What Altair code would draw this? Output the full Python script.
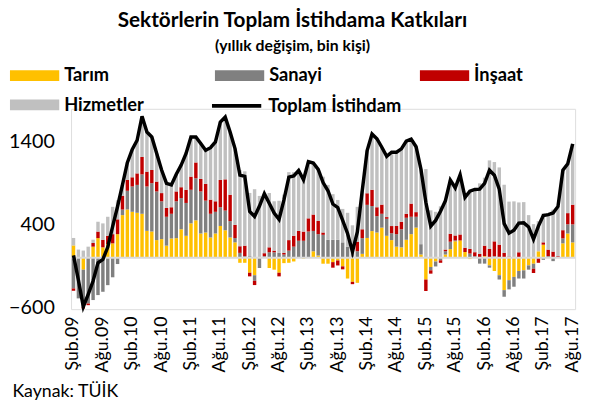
import altair as alt
import pandas as pd

# ---- data (thousand persons, yearly change) ----
ay_adlari = ["Oca", "Şub", "Mar", "Nis", "May", "Haz", "Tem", "Ağu", "Eyl", "Eki", "Kas", "Ara"]
aylar = []
for k in range(103):
    m = (1 + k) % 12
    yil = 2009 + (1 + k) // 12
    aylar.append(f"{ay_adlari[m]}.{yil % 100:02d}")

tarim = [150, 0, -143, 0, 135, 238, 127, 167, 175, 286,
         516, 584, 556, 544, 532, 326, 318, 214, 226, 147,
         234, 238, 345, 266, 417, 453, 294, 306, 246, 294,
         385, 333, 246, 187, -60, -60, -180, -210, 0, 0,
         -123, -143, -180, -64, -60, -44, 0, -10, 0, 79,
         28, -71, -71, -52, -32, -103, -250, -290, -302, 48,
         240, 323, 306, 365, 266, 214, 135, 127, 218, 286,
         365, 40, -262, -111, -44, 0, 40, 105, 200, 210,
         70, -15, 0, 0, 20, -91, -159, -210, -390, -270,
         -230, -159, -151, -91, -71, 79, 159, 0, 0, 0,
         175, 294, 186]

sanayi = [-370, -490, -450, -552, -510, -450, -410, -330, -235, -75,
          67, 226, 306, 337, 476, 536, 584, 588, 457, 349,
          298, 445, 377, 397, 405, 508, 508, 385, 286, 262,
          226, 238, 198, 52, 60, 20, 20, -67, -123, 20,
          67, 67, 60, 40, 87, 135, 206, 206, 318, 246,
          258, 278, 218, 218, 218, 187, 135, 100, 80, 190,
          400, 303, 198, 167, 206, 83, 151, 218, 266, 210,
          131, 125, 0, -40, -60, -30, 40, 90, 10, 0,
          0, 52, 20, -70, -70, -28, 20, -52, -80, -111,
          -119, -91, -99, -52, -60, 0, -24, 20, -40, 0,
          60, 111, 218]

insaat = [-28, 0, -20, -20, 44, 79, 91, 99, 111, 179,
          167, 131, 111, 139, 210, 179, 159, 119, 99, 107,
          79, 119, 131, 159, 159, 191, 151, 202, 171, 127,
          330, 377, 318, 159, 80, 127, -44, -52, 0, 36,
          60, 20, -44, 20, 127, 131, 119, 111, 159, 198,
          159, 28, 0, -67, -60, -36, 0, -28, 115, 107,
          140, 196, 107, 111, 20, 87, 99, 91, 48, 159,
          56, 0, -139, -40, 0, -30, 20, 95, 60, 72,
          52, 56, 48, 48, 127, 107, 179, 159, 60, 16,
          0, 67, 10, 0, -52, -60, 28, 79, 75, 20,
          99, 135, 238]

hizmetler = [90, 100, 88, 135, 40, 119, 198, 230, 330, 230,
             130, 209, 337, 400, 492, 479, 399, 339, 278, 297,
             269, 208, 267, 438, 479, 308, 427, 407, 627, 717,
             699, 752, 758, 922, 920, 898, 764, 829, 748, 719,
             656, 596, 629, 704, 821, 768, 730, 636, 686, 622,
             623, 674, 663, 551, 481, 404, 409, 293, 421, 465,
             516, 675, 828, 693, 735, 892, 891, 880, 878, 780,
             790, 903, 1072, 574, 556, 622, 590, 649, 576, 720,
             608, 713, 758, 852, 822, 1070, 958, 933, 823, 663,
             682, 602, 663, 516, 407, 364, 349, 423, 507, 601,
             724, 597, 734]

toplam = [30, -270, -590, -440, -280, -60, -20, 130, 380, 620,
          880, 1150, 1310, 1420, 1710, 1520, 1460, 1260, 1060, 900,
          880, 1010, 1120, 1260, 1460, 1460, 1380, 1300, 1330, 1400,
          1640, 1700, 1520, 1320, 1000, 985, 560, 500, 625, 775,
          660, 540, 465, 700, 975, 990, 1055, 943, 1163, 1145,
          1068, 909, 810, 650, 607, 452, 294, 75, 314, 810,
          1296, 1497, 1439, 1336, 1227, 1276, 1276, 1316, 1410, 1435,
          1342, 1068, 671, 383, 452, 562, 690, 939, 846, 1002,
          730, 806, 826, 830, 899, 1058, 998, 830, 413, 298,
          333, 419, 423, 373, 224, 383, 512, 522, 542, 621,
          1058, 1137, 1376]

seriler = ["Tarım", "Sanayi", "İnşaat", "Hizmetler"]
renkler = ["#FFC000", "#808080", "#C00000", "#C0C0C0"]
x_etiketler = [aylar[i] for i in range(0, 103, 6)]

# ---- tables ----
rows = []
for s_idx, (ad, vals) in enumerate(zip(seriler, [tarim, sanayi, insaat, hizmetler])):
    for a, v in zip(aylar, vals):
        rows.append({"ay": a, "seri": ad, "sira": s_idx, "deger": v})
df_bar = pd.DataFrame(rows)
df_line = pd.DataFrame({"ay": aylar, "toplam": toplam, "ad": "Toplam İstihdam"})
df_zero = pd.DataFrame({"y": [0]})

FONT = "Lato"
W, H = 511.5, 203.3

x_enc = alt.X(
    "ay:N", sort=aylar, title="Kaynak: TÜİK",
    scale=alt.Scale(paddingInner=0.3, paddingOuter=0.15),
    axis=alt.Axis(values=x_etiketler, labelAngle=270, domain=False, ticks=False,
                  labelFont=FONT, labelFontSize=18, labelColor="black", labelPadding=7,
                  titleFont=FONT, titleFontSize=18, titleFontWeight="normal", titleColor="black",
                  titleAnchor="start", titleAlign="left", titleBaseline="alphabetic",
                  titleX=-60, titleY=89),
)
y_scale = alt.Scale(domain=[-620, 1800], nice=False, zero=False)

bars = alt.Chart(df_bar).mark_bar().encode(
    x=x_enc,
    y=alt.Y("deger:Q", stack="zero", scale=y_scale, title=None,
            axis=alt.Axis(values=[-600, 400, 1400], format="d", domain=False, ticks=False, grid=False,
                          labelFont=FONT, labelFontSize=20, labelColor="black", labelPadding=17)),
    color=alt.Color("seri:N", sort=seriler,
                    scale=alt.Scale(domain=seriler, range=renkler),
                    legend=alt.Legend(title=None, orient="none", legendX=-47, legendY=-44,
                                      direction="horizontal", columns=3, gridAlign="all",
                                      columnPadding=72, rowPadding=10, padding=0,
                                      symbolType="M-2.5,-0.55H2.5V0.55H-2.5Z", symbolSize=400,
                                      symbolStrokeWidth=0, labelOffset=20,
                                      labelFont=FONT, labelFontSize=18.5, labelFontWeight="bold",
                                      labelColor="black")),
    order=alt.Order("sira:Q"),
)

zero = alt.Chart(df_zero).mark_rule(color="#D9D9D9", strokeWidth=2).encode(y=alt.Y("y:Q", scale=y_scale))

line = alt.Chart(df_line).mark_line(strokeWidth=3.5).encode(
    x=alt.X("ay:N", sort=aylar),
    y=alt.Y("toplam:Q", scale=y_scale),
    stroke=alt.Stroke("ad:N", scale=alt.Scale(domain=["Toplam İstihdam"], range=["black"]),
                      legend=alt.Legend(title=None, orient="none", legendX=156, legendY=-15,
                                        padding=0, symbolType="M-2.5,0H2.5", symbolSize=400,
                                        symbolStrokeWidth=4, labelOffset=20,
                                        labelFont=FONT, labelFontSize=18.5, labelFontWeight="bold",
                                        labelColor="black")),
)

chart = alt.layer(bars, zero, line).properties(
    width=W, height=H,
    autosize=alt.AutoSizeParams(type="none"),
    padding={"left": 64, "top": 99.4, "right": 8, "bottom": 92},
    title=alt.TitleParams(text="Sektörlerin Toplam İstihdama Katkıları",
                          subtitle="(yıllık değişim, bin kişi)",
                          font=FONT, fontSize=21, fontWeight="bold", color="black",
                          subtitleFont=FONT, subtitleFontSize=16, subtitleFontWeight="bold",
                          subtitleColor="black", subtitlePadding=7,
                          anchor="middle", dx=-31, offset=12),
).resolve_scale(color="independent").configure_view(stroke=None).configure(background="white")

chart.save("out.html", embed_options={"renderer": "svg", "actions": False})
